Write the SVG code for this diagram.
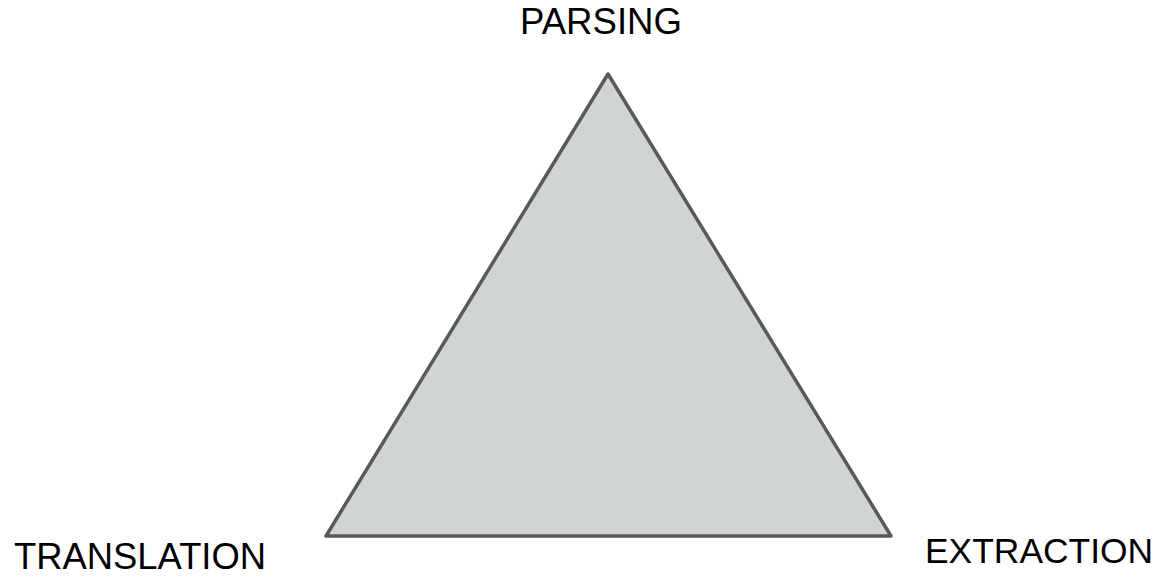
<svg xmlns="http://www.w3.org/2000/svg" width="1165" height="577" viewBox="0 0 1165 577">
<style>
.lbl{font-family:"Liberation Sans",Arial,sans-serif;font-size:36px;fill:#000}
.tri{fill:#cfd5d5;stroke:#595959;stroke-width:3.5;stroke-linejoin:round}
</style>
<rect width="1165" height="577" fill="#fff"/>
<g id="triangle"><polygon class="tri" points="608,74 326,536 891,536"/></g>
<g id="parsing"><text class="lbl" x="601" y="34" text-anchor="middle" style="font-size:36.6px">PARSING</text></g>
<g id="translation"><text class="lbl" x="14" y="569" style="font-size:36.4px">TRANSLATION</text></g>
<g id="extraction"><text class="lbl" x="925" y="563" style="font-size:35.4px">EXTRACTION</text></g>
</svg>
